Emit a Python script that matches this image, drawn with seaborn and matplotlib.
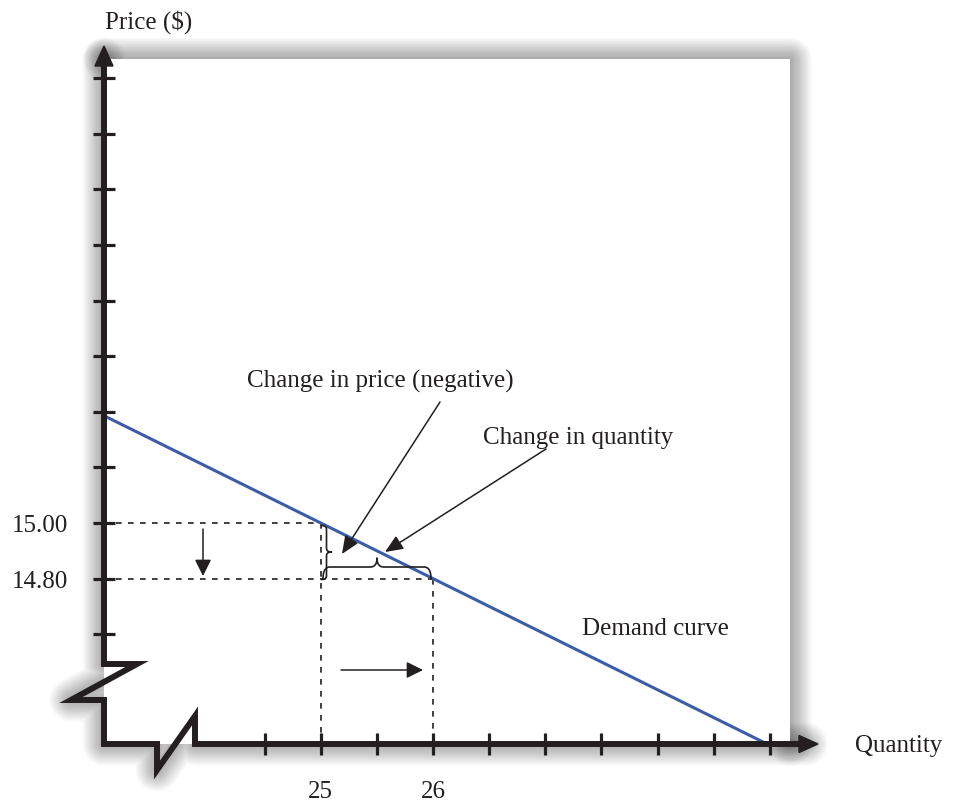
import numpy as np
import pandas as pd
import matplotlib
matplotlib.use("Agg")
import matplotlib.pyplot as plt
from matplotlib.patches import Polygon
import seaborn as sns

# ---------------- data ----------------
demand_quantity = [23.07, 29.0]
demand_price = [15.386, 14.2]
point_quantity = [25, 26]
point_price = [15.00, 14.80]
quantity_ticks = [24.5, 25.0, 25.5, 26.0, 26.5, 27.0, 27.5, 28.0, 28.5, 29.0]
quantity_tick_labels = ["", "25", "", "26", "", "", "", "", "", ""]
price_ticks = [14.6, 14.8, 15.0, 15.2, 15.4, 15.6, 15.8, 16.0, 16.2, 16.4, 16.6]
price_tick_labels = ["", "14.80", "15.00", "", "", "", "", "", "", "", ""]
x_label = "Quantity"
y_label = "Price ($)"
note_price = "Change in price (negative)"
note_quantity = "Change in quantity"
note_demand = "Demand curve"

# ---------------- style ----------------
sns.set_style("white")
plt.rcParams["font.family"] = ["Liberation Serif", "DejaVu Serif"]
plt.rcParams["font.size"] = 18
INK = "#231f20"
BLUE = "#3b5ca8"

W, H = 958, 803
fig = plt.figure(figsize=(W / 100, H / 100), dpi=100)
fig.patch.set_facecolor("white")

X0, X1, Y0, Y1 = 104, 790, 745, 60  # box in pixels (top-down rows)

under = fig.add_axes([0, 0, 1, 1], zorder=0)
ax = fig.add_axes([X0 / W, (H - Y0) / H, (X1 - X0) / W, (Y0 - Y1) / H], zorder=1)
over = fig.add_axes([0, 0, 1, 1], zorder=2)
for a in (under, over):
    a.set_xlim(0, W)
    a.set_ylim(H, 0)
    a.axis("off")

# ---------------- main data axes ----------------
demand = pd.DataFrame({"Quantity": demand_quantity, "Price": demand_price})
sns.lineplot(data=demand, x="Quantity", y="Price", ax=ax, color=BLUE,
             linewidth=2.2, zorder=4)
ax.set_xlim(23.0703, 29.1790)
ax.set_ylim(14.2050, 16.6691)
ax.set_facecolor("white")
for s in ax.spines.values():
    s.set_visible(False)
ax.set_xlabel("")
ax.set_ylabel("")
ax.set_xticks(quantity_ticks, quantity_tick_labels)
ax.set_yticks(price_ticks, price_tick_labels)
ax.tick_params(bottom=True, left=True, direction="inout", length=15.8, width=2.3,
               color=INK, labelcolor=INK, labelsize=18)
ax.tick_params(axis="y", pad=18)
ax.tick_params(axis="x", pad=18)

q_axis = ax.get_xlim()[0]
p_axis = ax.get_ylim()[0]
dash = (0, (3.4, 3.8))
for q, p in zip(point_quantity, point_price):
    ax.plot([q_axis, q], [p, p], ls=dash, lw=1.2, color=INK, zorder=2)
    ax.plot([q, q], [p, p_axis], ls=dash, lw=1.2, color=INK, zorder=2)

# ---------------- axis lines with breaks (pixels) ----------------
axis_pts = [(X0, 66), (X0, 665), (137, 665), (71, 701), (X0, 701), (X0, Y0),
            (157, Y0), (157, 771), (195, 717), (195, Y0), (801, Y0)]
box_pts = [(X0, Y1), (X1, Y1), (X1, Y0)]
glow_axis = [(X0, 60)] + axis_pts[1:] + [(806, Y0)]

# soft shadow
n_layers = 18
for k in range(n_layers):
    w = 31 * (1 - k / n_layers)
    for pts in (glow_axis, box_pts):
        xs, ys = zip(*pts)
        under.plot(xs, ys, color="black", alpha=0.02, lw=w,
                   solid_joinstyle="round", solid_capstyle="round")

xs, ys = zip(*axis_pts)
over.plot(xs, ys, color=INK, lw=4.3, solid_joinstyle="miter", solid_capstyle="butt")
over.add_patch(Polygon([(X0, 47), (X0 - 9, 67), (X0 + 9, 67)], closed=True, color=INK))
over.add_patch(Polygon([(818, Y0), (799, Y0 - 8.5), (799, Y0 + 8.5)], closed=True, color=INK))


# ---------------- braces ----------------
def brace(p0, p1, normal, tip_at, d_end, d_tip, r, n=30):
    p0 = np.array(p0, float)
    p1 = np.array(p1, float)
    L = np.linalg.norm(p1 - p0)
    eu = (p1 - p0) / L
    ev = np.array(normal, float)
    t = np.linspace(0, 1, n)[:, None]

    def q(a, c, b):
        a, c, b = (np.array(v, float) for v in (a, c, b))
        return (1 - t) ** 2 * a + 2 * (1 - t) * t * c + t ** 2 * b

    m = tip_at
    segs = [q((0, 0), (0, d_end), (r, d_end)),
            np.array([[r, d_end], [m - r, d_end]]),
            q((m - r, d_end), (m, d_end), (m, d_end + d_tip)),
            q((m, d_end + d_tip), (m, d_end), (m + r, d_end)),
            np.array([[m + r, d_end], [L - r, d_end]]),
            q((L - r, d_end), (L, d_end), (L, 0))]
    uv = np.vstack(segs)
    pts = p0 + uv[:, :1] * eu + uv[:, 1:] * ev
    return pts[:, 0], pts[:, 1]


bx, by = brace((323, 580), (431, 580), (0, -1), 54, 12, 9, 7)
over.plot(bx, by, color=INK, lw=1.2)
bx, by = brace((321.5, 526.5), (321.5, 580.5), (1, 0), 26.5, 5, 5, 4)
over.plot(bx, by, color=INK, lw=1.2)

# ---------------- arrows ----------------
small = dict(arrowstyle="-|>,head_length=0.4,head_width=0.2", mutation_scale=25,
             color=INK, lw=1.1, shrinkA=0, shrinkB=0)
over.annotate("", xy=(203, 577), xytext=(203, 530), arrowprops=small)
over.annotate("", xy=(423, 671), xytext=(341, 671), arrowprops=small)
note = dict(arrowstyle="-|>,head_length=0.42,head_width=0.18", mutation_scale=26,
            color=INK, lw=1.1, shrinkA=0, shrinkB=0)
over.annotate("", xy=(342, 555), xytext=(440, 403), arrowprops=note)
over.annotate("", xy=(385, 553), xytext=(546, 450), arrowprops=note)

# ---------------- texts ----------------
txt = dict(color=INK, fontsize=18, ha="left", va="baseline")
over.text(105, 29, y_label, **txt)
over.text(855, 752, x_label, **txt)
over.text(247, 388, note_price, **txt)
over.text(483, 444, note_quantity, **txt)
over.text(582, 635, note_demand, **txt)

fig.savefig("out.png", dpi=100, facecolor="white")
